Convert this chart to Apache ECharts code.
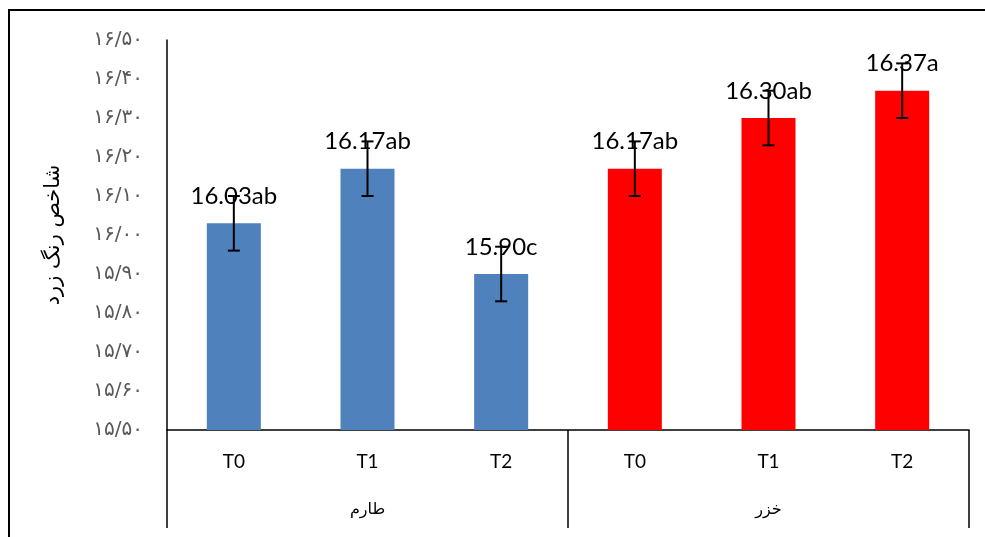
<!DOCTYPE html>
<html>
<head>
<meta charset="utf-8">
<script src="https://cdn.jsdelivr.net/npm/echarts@6/dist/echarts.min.js"></script>
<style>
  html, body { margin: 0; padding: 0; background: #fff; }
  #chart { width: 985px; height: 537px; }
</style>
</head>
<body>
<div id="chart"></div>
<script>
// Treatments inside each cultivar group
const treatments = ['T0', 'T1', 'T2', 'T0', 'T1', 'T2'];
// Cultivar groups (second level of the category axis)
const cultivars = ['طارم', 'خزر'];
// Yellowness index means and their standard errors
const means = [16.03, 16.17, 15.90, 16.17, 16.30, 16.37];
const errors = [0.07, 0.07, 0.07, 0.07, 0.07, 0.07];
// Duncan grouping letters
const letters = ['ab', 'ab', 'c', 'ab', 'ab', 'a'];
// Value axis tick labels (Persian digits)
const yTickValues = [15.5, 15.6, 15.7, 15.8, 15.9, 16.0, 16.1, 16.2, 16.3, 16.4, 16.5];
const yTickLabels = ['۱۵/۵۰', '۱۵/۶۰', '۱۵/۷۰', '۱۵/۸۰', '۱۵/۹۰', '۱۶/۰۰', '۱۶/۱۰', '۱۶/۲۰', '۱۶/۳۰', '۱۶/۴۰', '۱۶/۵۰'];
const yTitle = 'شاخص رنگ زرد';

const groupColors = ['#4F81BD', '#FF0000'];
const latinFont = 'Lato, "Liberation Sans", sans-serif';
const arabicFont = '"DejaVu Sans", sans-serif';

const chart = echarts.init(document.getElementById('chart'));

chart.setOption({
  backgroundColor: '#ffffff',
  animation: false,
  grid: { left: 167, right: 16, top: 40, bottom: 107 },
  graphic: [
    { type: 'line', shape: { x1: 9, y1: 10, x2: 9, y2: 537 }, style: { stroke: '#000', lineWidth: 2 } },
    { type: 'line', shape: { x1: 8, y1: 10, x2: 985, y2: 10 }, style: { stroke: '#000', lineWidth: 2 } }
  ],
  xAxis: [
    {
      type: 'category',
      data: treatments,
      position: 'bottom',
      axisLine: { show: false },
      axisTick: { show: false },
      axisLabel: { margin: 22, fontSize: 19, color: '#000', fontFamily: latinFont }
    },
    {
      type: 'category',
      data: cultivars,
      position: 'bottom',
      boundaryGap: true,
      axisLine: { show: true, lineStyle: { color: '#000', width: 1.5 } },
      axisTick: { show: true, length: 98, lineStyle: { color: '#000', width: 1.5 } },
      axisLabel: { margin: 72, fontSize: 16, color: '#000', fontFamily: arabicFont }
    }
  ],
  yAxis: {
    type: 'value',
    min: 15.5,
    max: 16.5,
    interval: 0.1,
    name: yTitle,
    nameLocation: 'middle',
    nameGap: 103,
    nameTextStyle: { fontSize: 21, color: '#000', fontFamily: arabicFont },
    axisLine: { show: true, lineStyle: { color: '#000', width: 1.5 } },
    axisTick: { show: false },
    splitLine: { show: false },
    axisLabel: {
      margin: 24,
      fontSize: 20,
      color: '#595959',
      fontFamily: arabicFont,
      formatter: function (v) {
        let best = 0;
        for (let i = 1; i < yTickValues.length; i++) {
          if (Math.abs(yTickValues[i] - v) < Math.abs(yTickValues[best] - v)) best = i;
        }
        return yTickLabels[best];
      }
    }
  },
  series: [
    {
      type: 'bar',
      xAxisIndex: 0,
      barWidth: 54,
      data: means.map(function (v, i) {
        return { value: v, itemStyle: { color: groupColors[i < 3 ? 0 : 1] } };
      }),
      label: {
        show: true,
        position: 'top',
        distance: 15,
        fontSize: 24,
        color: '#000',
        fontFamily: latinFont,
        formatter: function (p) {
          return means[p.dataIndex].toFixed(2) + letters[p.dataIndex];
        }
      },
      z: 2
    },
    {
      type: 'custom',
      xAxisIndex: 0,
      data: means.map(function (v, i) { return [i, v, errors[i]]; }),
      renderItem: function (params, api) {
        const x = api.value(0);
        const v = api.value(1);
        const e = api.value(2);
        const hi = api.coord([x, v + e]);
        const lo = api.coord([x, v - e]);
        const cap = 6;
        const st = { stroke: '#000', lineWidth: 2 };
        return {
          type: 'group',
          children: [
            { type: 'line', shape: { x1: hi[0], y1: hi[1], x2: lo[0], y2: lo[1] }, style: st },
            { type: 'line', shape: { x1: hi[0] - cap, y1: hi[1], x2: hi[0] + cap, y2: hi[1] }, style: st },
            { type: 'line', shape: { x1: lo[0] - cap, y1: lo[1], x2: lo[0] + cap, y2: lo[1] }, style: st }
          ]
        };
      },
      z: 5
    }
  ]
});
</script>
</body>
</html>
